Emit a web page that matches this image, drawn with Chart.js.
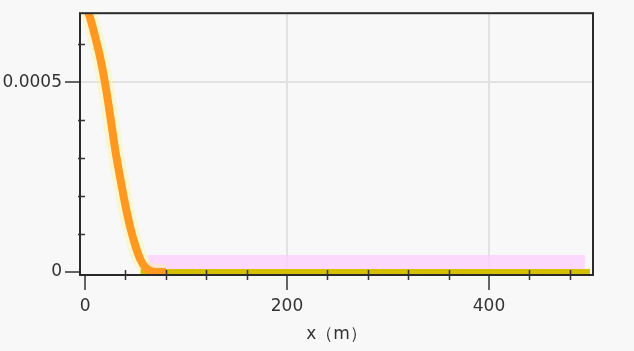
<!DOCTYPE html>
<html>
<head>
<meta charset="utf-8">
<script src="https://cdn.jsdelivr.net/npm/chart.js@4.4.1/dist/chart.umd.min.js"></script>
<style>
  html, body { margin: 0; padding: 0; background: #f8f8f8; }
  #wrap { width: 634px; height: 351px; }
</style>
</head>
<body>
<div id="wrap"><canvas id="c" width="634" height="351"></canvas></div>
<script>
// Decaying profile near the origin
const curveX = [0, 5, 10, 15, 20, 25, 30, 35, 40, 45, 50, 55, 60, 65, 70, 80];
const curveY = [0.00071, 0.00067, 0.00062, 0.000565, 0.000495, 0.00041, 0.00032, 0.000245, 0.000175, 0.000115, 0.000068, 0.000032, 0.000011, 0.000003, 0, 0];

// Flat baseline after the decay
const flatX = [55, 500];
const flatY = [0, 0];

// Pale band sitting on the baseline
const bandX = [62, 495];
const bandY = [0.000045, 0.000045];

// Axis ticks
const xMajorTicks = [0, 200, 400];
const xMinorTicks = [40, 80, 120, 160, 240, 280, 320, 360, 440, 480];
const yMajorTicks = [0, 0.0005];
const yMinorTicks = [0.0001, 0.0002, 0.0003, 0.0004, 0.0006];
const xTitle = 'x（m）';

const toPoints = (xs, ys) => xs.map((x, i) => ({ x: x, y: ys[i] }));

const framePlugin = {
  id: 'frame',
  afterDatasetsDraw(chart) {
    const { ctx, chartArea: a, scales } = chart;
    ctx.save();
    ctx.strokeStyle = '#2a2a2a';
    ctx.lineWidth = 2;
    ctx.strokeRect(a.left, a.top, a.right - a.left, a.bottom - a.top);
    // minor ticks
    ctx.lineWidth = 1.5;
    ctx.strokeStyle = '#333';
    ctx.beginPath();
    xMinorTicks.forEach(v => {
      const px = Math.round(scales.x.getPixelForValue(v)) + 0.5;
      ctx.moveTo(px, a.bottom - 5);
      ctx.lineTo(px, a.bottom + 5);
    });
    yMinorTicks.forEach(v => {
      const py = Math.round(scales.y.getPixelForValue(v)) + 0.5;
      ctx.moveTo(a.left - 2, py);
      ctx.lineTo(a.left + 5, py);
    });
    ctx.stroke();
    ctx.restore();
  }
};

new Chart(document.getElementById('c'), {
  type: 'line',
  data: {
    datasets: [
      {
        data: toPoints(curveX, curveY),
        borderColor: '#ff9820',
        borderWidth: 8,
        pointRadius: 0,
        tension: 0.3,
        order: 1
      },
      {
        data: toPoints(flatX, flatY),
        borderColor: '#d4bf00',
        borderWidth: 6,
        pointRadius: 0,
        order: 2
      },
      {
        data: toPoints(curveX, curveY),
        borderColor: 'rgba(250, 245, 150, 0.4)',
        borderWidth: 16,
        pointRadius: 0,
        tension: 0.3,
        order: 3
      },
      {
        data: toPoints(bandX, bandY),
        borderWidth: 0,
        backgroundColor: 'rgba(255, 205, 255, 0.75)',
        fill: 'origin',
        pointRadius: 0,
        order: 4
      }
    ]
  },
  options: {
    responsive: false,
    animation: false,
    layout: { padding: { top: 13, right: 41, bottom: 6, left: 0 } },
    plugins: { legend: { display: false }, tooltip: { enabled: false } },
    scales: {
      x: {
        type: 'linear',
        min: -5,
        max: 503,
        afterBuildTicks: s => { s.ticks = xMajorTicks.map(v => ({ value: v })); },
        afterFit: s => { s.height = 70; },
        border: { display: false },
        grid: {
          color: c => (c.tick && c.tick.value !== 0 ? '#e2e2e2' : 'rgba(0,0,0,0)'),
          lineWidth: 2,
          tickColor: '#333',
          tickLength: 15,
          tickWidth: 1.5
        },
        ticks: {
          color: '#333',
          padding: 6,
          font: { family: 'DejaVu Sans', size: 17 },
          maxRotation: 0
        },
        title: {
          display: true,
          text: xTitle,
          color: '#333',
          padding: 0,
          font: { family: 'DejaVu Sans', size: 17 }
        }
      },
      y: {
        type: 'linear',
        min: -0.0000079,
        max: 0.000682,
        afterBuildTicks: s => { s.ticks = yMajorTicks.map(v => ({ value: v })); },
        afterFit: s => { s.width = 80; },
        border: { display: false },
        grid: {
          color: c => (c.tick && c.tick.value !== 0 ? '#e2e2e2' : 'rgba(0,0,0,0)'),
          lineWidth: 2,
          tickColor: '#333',
          tickLength: 15,
          tickWidth: 1.5
        },
        ticks: {
          color: '#333',
          padding: 3,
          font: { family: 'DejaVu Sans', size: 17 },
          callback: v => String(v)
        }
      }
    }
  },
  plugins: [framePlugin]
});
</script>
</body>
</html>
